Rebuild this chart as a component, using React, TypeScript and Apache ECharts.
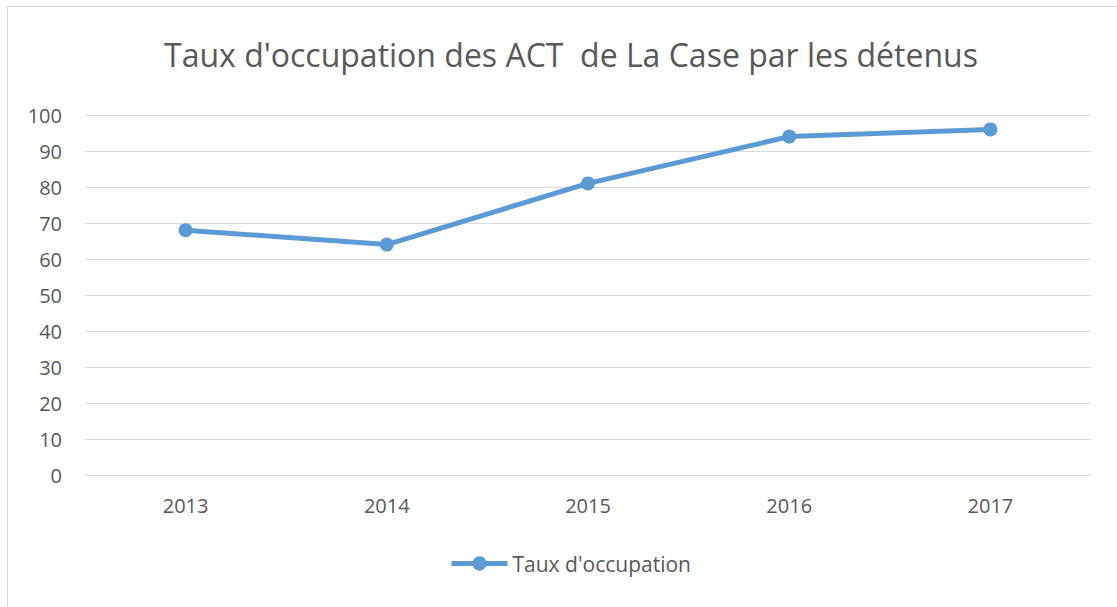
import React, { useEffect, useRef } from "react";
import * as echarts from "echarts";

const categories = ["2013", "2014", "2015", "2016", "2017"];
const values = [68, 64, 81, 94, 96];
const seriesName = "Taux d'occupation";
const titleText = "Taux d'occupation des ACT  de La Case par les détenus";

export default function App() {
  const ref = useRef<HTMLDivElement>(null);
  useEffect(() => {
    const chart = echarts.init(ref.current!, null, { renderer: "svg" });
    const font = "'Open Sans', 'Noto Sans', sans-serif";
    chart.setOption({
      animation: false,
      backgroundColor: "#ffffff",
      title: {
        text: titleText,
        left: 566,
        textAlign: "center",
        top: 33,
        textStyle: { fontFamily: font, fontSize: 32, fontWeight: "normal", color: "#595959" },
      },
      graphic: [
        {
          type: "rect",
          shape: { x: 7.5, y: 6.5, width: 1300, height: 800 },
          style: { fill: "none", stroke: "#d9d9d9", lineWidth: 1 },
          silent: true,
        },
      ],
      legend: {
        bottom: 28,
        left: 444,
        itemWidth: 56,
        itemHeight: 18,
        itemGap: 10,
        lineStyle: { width: 5 },
        textStyle: { fontFamily: font, fontSize: 21, color: "#595959" },
        data: [seriesName],
      },
      grid: { left: 85, right: 26, top: 115, bottom: 132 },
      xAxis: {
        type: "category",
        data: categories,
        boundaryGap: true,
        axisLine: { show: true, lineStyle: { color: "#d9d9d9", width: 1 } },
        axisTick: { show: false },
        axisLabel: { fontFamily: font, fontSize: 20, color: "#595959", margin: 20 },
      },
      yAxis: {
        type: "value",
        min: 0,
        max: 100,
        interval: 10,
        axisLine: { show: false },
        axisTick: { show: false },
        splitLine: { lineStyle: { color: "#d9d9d9", width: 1 } },
        axisLabel: { fontFamily: font, fontSize: 20, color: "#595959", margin: 23 },
      },
      series: [
        {
          name: seriesName,
          type: "line",
          data: values,
          symbol: "circle",
          symbolSize: 14,
          lineStyle: { color: "#5b9bd5", width: 5 },
          itemStyle: { color: "#5b9bd5" },
        },
      ],
    });
    return () => chart.dispose();
  }, []);
  return (
    <div
      ref={ref}
      style={{ position: "fixed", left: 0, top: 0, width: 1117, height: 607 }}
    />
  );
}
